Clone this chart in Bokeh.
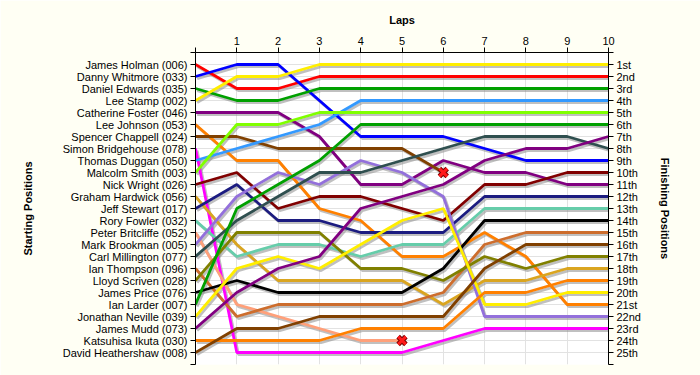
from bokeh.plotting import figure
from bokeh.models import Range1d, LinearAxis, FixedTicker, ColumnDataSource
from bokeh.transform import dodge
from bokeh.embed import file_html
from bokeh.resources import INLINE

laps = list(range(11))

drivers = [
    "James Holman (006)", "Danny Whitmore (033)", "Daniel Edwards (035)",
    "Lee Stamp (002)", "Catherine Foster (046)", "Lee Johnson (053)",
    "Spencer Chappell (024)", "Simon Bridgehouse (078)", "Thomas Duggan (050)",
    "Malcolm Smith (003)", "Nick Wright (026)", "Graham Hardwick (056)",
    "Jeff Stewart (017)", "Rory Fowler (032)", "Peter Britcliffe (052)",
    "Mark Brookman (005)", "Carl Millington (077)", "Ian Thompson (096)",
    "Lloyd Scriven (028)", "James Price (076)", "Ian Larder (007)",
    "Jonathan Neville (039)", "James Mudd (073)", "Katsuhisa Ikuta (030)",
    "David Heathershaw (008)",
]

finish_labels = ["1st", "2nd", "3rd"] + [f"{i}th" for i in range(4, 21)] + ["21st", "22nd", "23rd", "24th", "25th"]

# race position of each driver after each lap (lap 0 = grid)
james_holman = [1, 3, 3, 2, 2, 2, 2, 2, 2, 2, 2]
danny_whitmore = [2, 1, 1, 4, 7, 7, 7, 8, 9, 9, 9]
daniel_edwards = [3, 4, 4, 3, 3, 3, 3, 3, 3, 3, 3]
lee_stamp = [4, 2, 2, 1, 1, 1, 1, 1, 1, 1, 1]
catherine_foster = [5, 5, 5, 7, 11, 11, 9, 10, 10, 11, 11]
lee_johnson = [6, 9, 9, 13, 14, 17, 17, 15, 17, 21, 21]
spencer_chappell = [7, 7, 8, 8, 8, 8, 10]
simon_bridgehouse = [8, 25, 25, 25, 25, 25, 24, 23, 23, 23, 23]
thomas_duggan = [9, 8, 7, 6, 4, 4, 4, 4, 4, 4, 4]
malcolm_smith = [10, 6, 6, 5, 5, 5, 5, 5, 5, 5, 5]
nick_wright = [11, 10, 13, 12, 12, 13, 14, 11, 11, 10, 10]
graham_hardwick = [12, 16, 19, 19, 19, 19, 21, 19, 19, 18, 18]
jeff_stewart = [13, 11, 14, 14, 15, 15, 15, 12, 12, 12, 12]
rory_fowler = [14, 17, 16, 16, 17, 16, 16, 13, 13, 13, 13]
peter_britcliffe = [15, 21, 22, 23, 24, 24]
mark_brookman = [16, 12, 10, 11, 9, 10, 12, 22, 22, 22, 22]
carl_millington = [17, 14, 12, 10, 10, 9, 8, 7, 7, 7, 8]
ian_thompson = [18, 22, 21, 21, 21, 21, 20, 16, 15, 15, 15]
lloyd_scriven = [19, 15, 15, 15, 18, 18, 19, 17, 18, 17, 17]
james_price = [20, 19, 20, 20, 20, 20, 18, 14, 14, 14, 14]
ian_larder = [21, 13, 11, 9, 6, 6, 6, 6, 6, 6, 6]
jonathan_neville = [22, 18, 17, 18, 16, 14, 13, 21, 21, 20, 20]
james_mudd = [23, 20, 18, 17, 13, 12, 11, 9, 8, 8, 7]
katsuhisa_ikuta = [24, 24, 24, 24, 23, 23, 23, 20, 20, 19, 19]
david_heathershaw = [25, 23, 23, 22, 22, 22, 22, 18, 16, 16, 16]

series = [
    james_holman, danny_whitmore, daniel_edwards, lee_stamp, catherine_foster,
    lee_johnson, spencer_chappell, simon_bridgehouse, thomas_duggan, malcolm_smith,
    nick_wright, graham_hardwick, jeff_stewart, rory_fowler, peter_britcliffe,
    mark_brookman, carl_millington, ian_thompson, lloyd_scriven, james_price,
    ian_larder, jonathan_neville, james_mudd, katsuhisa_ikuta, david_heathershaw,
]

colors = [
    "#ff0000", "#0000ff", "#00a000", "#ffee00", "#800080",
    "#ff8000", "#804000", "#ff00ff", "#3399ff", "#80ff00",
    "#800000", "#daa520", "#1c1c80", "#66cdaa", "#ffa07a",
    "#9370db", "#2f4f4f", "#cd6d2d", "#808000", "#000000",
    "#00a000", "#ffee00", "#800080", "#ff8000", "#804000",
]

BG = "#fffff4"
FONT = "Liberation Sans"
n = len(drivers)

p = figure(
    frame_width=413, frame_height=312,
    x_range=Range1d(0, 10), y_range=Range1d(n + 1, 0),
    x_axis_location="above", y_axis_location="left",
    output_backend="svg", toolbar_location=None,
    min_border_left=195, min_border_right=92, min_border_top=52, min_border_bottom=11,
    background_fill_color="white", border_fill_color=BG, outline_line_color=None,
)

ticks = list(range(n + 2))
left_over = {0: "", n + 1: ""}
right_over = {0: "", n + 1: ""}
for i in range(n):
    left_over[i + 1] = drivers[i]
    right_over[i + 1] = finish_labels[i]

xa = p.xaxis[0]
xa.ticker = FixedTicker(ticks=laps)
xa.major_label_overrides = {0: ""}
xa.axis_label = "Laps"

ya = p.yaxis[0]
ya.ticker = FixedTicker(ticks=ticks)
ya.major_label_overrides = left_over
ya.axis_label = "Starting Positions"

ra = LinearAxis(ticker=FixedTicker(ticks=ticks), major_label_overrides=right_over,
                axis_label="Finishing Positions")
p.add_layout(ra, "right")

for ax in (xa, ya, ra):
    ax.major_label_text_font = FONT
    ax.major_label_text_font_size = "11px"
    ax.major_label_text_color = "#000000"
    ax.axis_label_text_font = FONT
    ax.axis_label_text_font_size = "11px"
    ax.axis_label_text_font_style = "bold"
    ax.axis_label_text_color = "#000000"
    ax.minor_tick_line_color = None
    ax.major_tick_in = 0
    ax.major_tick_out = 5
    ax.major_label_standoff = 3
    ax.axis_line_color = "#000000"
    ax.major_tick_line_color = "#000000"

xa.axis_label_standoff = 8
ya.axis_label_standoff = 26
ra.axis_label_standoff = 15

p.xgrid.ticker = FixedTicker(ticks=laps)
p.ygrid.ticker = FixedTicker(ticks=ticks)
p.grid.grid_line_color = "#e2e2e2"
p.grid.grid_line_width = 1

sources = [ColumnDataSource(dict(x=laps[:len(s)], y=s)) for s in series]

for src in sources:
    p.line(x=dodge("x", 0.04), y=dodge("y", 0.17), source=src,
           line_color="#8c8c8c", line_alpha=0.55, line_width=2.8)
for src, c in zip(sources, colors):
    p.line(x="x", y="y", source=src, line_color=c, line_width=2.8)

# retirement markers at the last recorded lap of drivers who did not finish
rx = [len(s) - 1 for s in series if len(s) < len(laps)]
ry = [s[-1] for s in series if len(s) < len(laps)]
msrc = ColumnDataSource(dict(x=rx, y=ry))
p.scatter(x="x", y="y", source=msrc, marker="x", size=11, line_color="#7a0000", line_width=5)
p.scatter(x="x", y="y", source=msrc, marker="x", size=11, line_color="#ff1a1a", line_width=3)

html = file_html(p, INLINE, title="Lap chart")
html = html.replace("<body>", f'<body style="background-color:{BG};">', 1)
open("out.html", "w").write(html)
